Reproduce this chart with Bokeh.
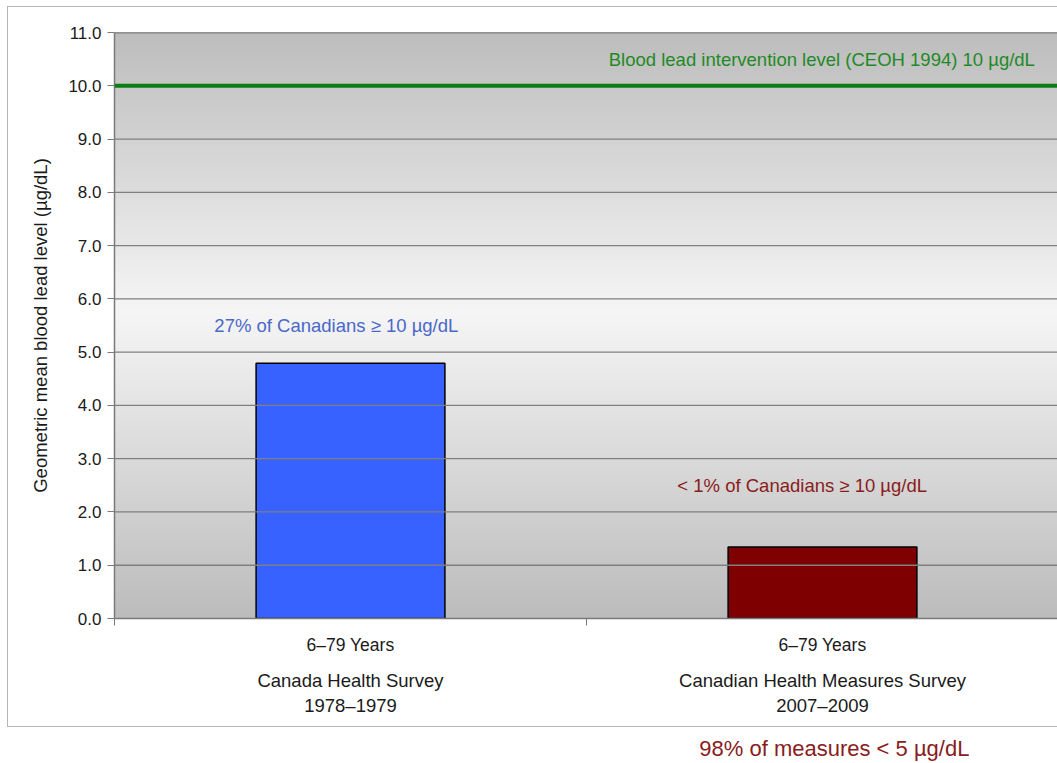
import numpy as np
from bokeh.plotting import figure
from bokeh.layouts import column
from bokeh.models import (Range1d, FixedTicker, LinearAxis, Label, Span, PrintfTickFormatter)
from bokeh.embed import file_html
from bokeh.resources import INLINE

# ---- data ----
surveys = ["Canada Health Survey\n1978\u20131979", "Canadian Health Measures Survey\n2007\u20132009"]
age_groups = ["6\u201379 Years", "6\u201379 Years"]
geo_means = [4.79, 1.34]
bar_colors = ["#3762ff", "#7f0000"]
pct_notes = ["27% of Canadians \u2265 10 \u00b5g/dL", "< 1% of Canadians \u2265 10 \u00b5g/dL"]
note_levels = [5.5, 2.5]
note_colors = ["#4a68c8", "#8a1c1c"]
intervention_level = 10.0
intervention_text = "Blood lead intervention level (CEOH 1994) 10 \u00b5g/dL"
footnote = "98% of measures < 5 \u00b5g/dL"
y_ticks = [float(v) for v in range(0, 12)]

FONT = "Liberation Sans"

p = figure(width=1050, height=721, output_backend="svg", toolbar_location=None,
           x_range=Range1d(0, 2), y_range=Range1d(0, 11),
           min_border_left=106, min_border_right=0, min_border_top=25, min_border_bottom=110,
           x_axis_location=None, y_axis_location=None,
           styles={"margin-left": "7px", "margin-top": "6px",
                   "border-left": "1px solid #b5b5b5", "border-top": "1px solid #b5b5b5",
                   "border-bottom": "1px solid #b5b5b5"})
p.background_fill_color = None
p.border_fill_color = "white"
p.outline_line_color = None
p.grid.visible = False

# background gradient (style only), overlapping bands to avoid seams
n = 110
edges = np.linspace(0, 11, n + 1)
mids = (edges[:-1] + edges[1:]) / 2
peak = 5.8
cols = []
for m in mids:
    d = abs(m - peak) / (11 - peak if m > peak else peak)
    c = int(round(0xf5 - (0xf5 - 0xbc) * d))
    cols.append("#%02x%02x%02x" % (c, c, c))
p.quad(left=0, right=2, bottom=edges[:-1], top=np.minimum(edges[1:] + 0.06, 11),
       fill_color=cols, line_color=None)

# gridlines
for t in y_ticks[1:]:
    p.add_layout(Span(location=t, dimension="width", line_color="#7f7f7f", line_width=1.3))
p.add_layout(Span(location=11, dimension="width", line_color="#6f6f6f", line_width=1.5))

# bars
xs = [i + 0.5 for i in range(len(geo_means))]
p.vbar(x=xs, top=geo_means, width=0.4, fill_color=bar_colors, line_color="black", line_width=1.5)

# intervention level
p.add_layout(Span(location=intervention_level, dimension="width", line_color="#0b7d13", line_width=4))
p.add_layout(Label(x=1.95, y=intervention_level + 0.5, text=intervention_text, text_align="right",
                   text_baseline="middle", text_font=FONT, text_font_size="18.5px", text_color="#1f8a25"))

# notes
for x, lvl, txt, col in zip([0.47, 1.457], note_levels, pct_notes, note_colors):
    p.add_layout(Label(x=x, y=lvl, text=txt, text_align="center", text_baseline="middle",
                       text_font=FONT, text_font_size="18.5px", text_color=col))

# y axis
ya = LinearAxis(ticker=FixedTicker(ticks=y_ticks), formatter=PrintfTickFormatter(format="%.1f"),
                axis_label="Geometric mean blood lead level (\u00b5g/dL)")
ya.axis_line_color = "#7a7a7a"
ya.axis_line_width = 1.5
ya.major_tick_line_color = "#7a7a7a"
ya.major_tick_out = 7
ya.major_tick_in = 0
ya.minor_tick_line_color = None
ya.major_label_text_font = FONT
ya.major_label_text_font_size = "17px"
ya.major_label_text_color = "#1a1a1a"
ya.major_label_standoff = 6
ya.axis_label_text_font = FONT
ya.axis_label_text_font_size = "18.5px"
ya.axis_label_text_font_style = "normal"
ya.axis_label_text_color = "#1a1a1a"
ya.axis_label_standoff = 14
p.add_layout(ya, "left")

# x axis: age groups with boundary ticks
xa = LinearAxis(ticker=FixedTicker(ticks=xs, minor_ticks=[0, 1, 2]))
xa.major_label_overrides = {x: a for x, a in zip(xs, age_groups)}
xa.axis_line_color = "#7a7a7a"
xa.axis_line_width = 1.5
xa.major_tick_line_color = None
xa.minor_tick_line_color = "#7a7a7a"
xa.minor_tick_out = 7
xa.minor_tick_in = 0
xa.major_label_text_font = FONT
xa.major_label_text_font_size = "17.5px"
xa.major_label_text_color = "#1a1a1a"
xa.major_label_standoff = 9
p.add_layout(xa, "below")

# x axis 2: survey names
xa2 = LinearAxis(ticker=FixedTicker(ticks=xs, minor_ticks=[]))
xa2.major_label_overrides = {x: s for x, s in zip(xs, surveys)}
xa2.axis_line_color = None
xa2.major_tick_line_color = None
xa2.minor_tick_line_color = None
xa2.major_label_text_font = FONT
xa2.major_label_text_font_size = "18.5px"
xa2.major_label_text_color = "#1a1a1a"
xa2.major_label_standoff = 6
p.add_layout(xa2, "below")

# footnote strip below the bordered chart
p2 = figure(width=1057, height=34, output_backend="svg", toolbar_location=None,
            x_range=Range1d(0, 1057), y_range=Range1d(0, 34),
            min_border=0, x_axis_location=None, y_axis_location=None)
p2.outline_line_color = None
p2.grid.visible = False
p2.background_fill_color = "white"
p2.border_fill_color = "white"
p2.add_layout(Label(x=809, y=13, text=footnote, text_align="center", text_baseline="middle",
                    text_font=FONT, text_font_size="22px", text_color="#8a1c1c"))

open("out.html", "w").write(file_html(column(p, p2, spacing=0), INLINE))
